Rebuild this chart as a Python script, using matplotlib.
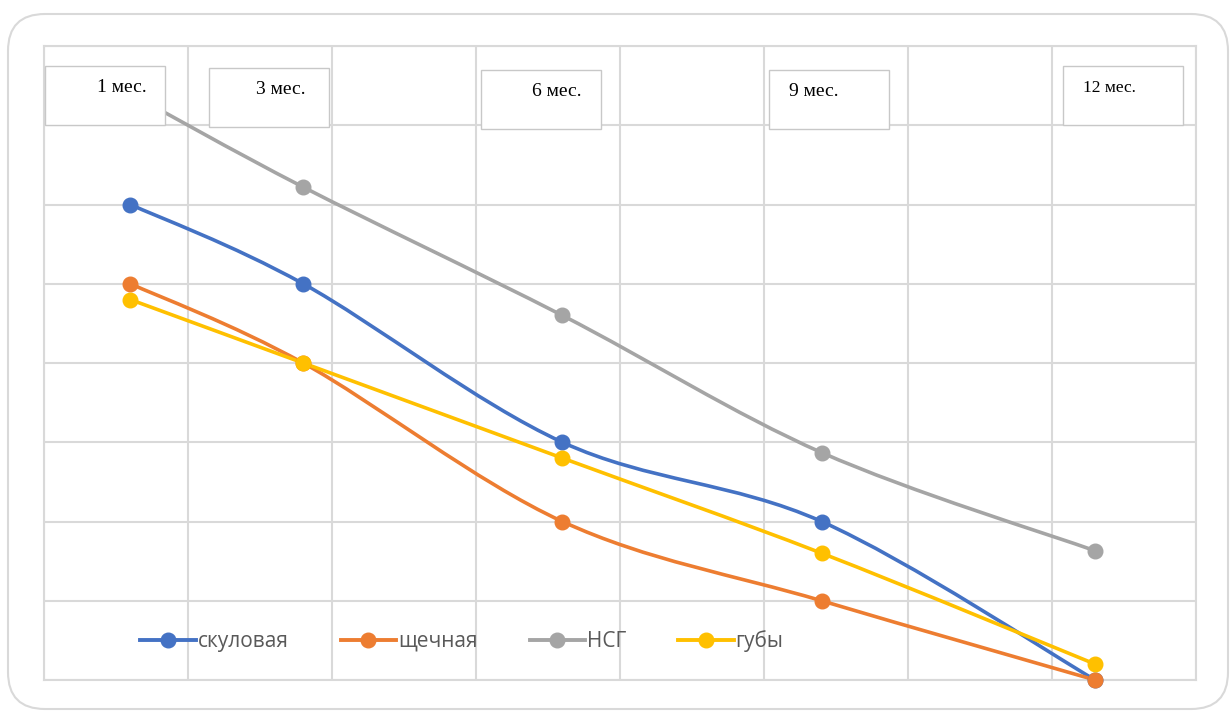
import numpy as np
import matplotlib.pyplot as plt
from matplotlib.path import Path
from matplotlib.patches import PathPatch, FancyBboxPatch
from matplotlib.lines import Line2D

# data (x in days after treatment)
days = [30, 90, 180, 270, 365]
month_labels = ['1 мес.', '3 мес.', '6 мес.', '9 мес.', '12 мес.']
series_names = ['скуловая', 'щечная', 'НСГ', 'губы']
skulovaya = [6.0, 5.0, 3.0, 2.0, 0.0]
shchechnaya = [5.0, 4.0, 2.0, 1.0, 0.0]
nsg = [7.4, 6.22, 4.6, 2.87, 1.63]
guby = [4.8, 4.0, 2.8, 1.6, 0.2]
colors = ['#4472C4', '#ED7D31', '#A5A5A5', '#FFC000']


def smooth_path(xs, ys):
    """Excel-like smoothed line as cubic Bezier path (Catmull-Rom)"""
    pts = np.column_stack([xs, ys]).astype(float)
    n = len(pts)
    verts = [pts[0]]
    codes = [Path.MOVETO]
    for i in range(n - 1):
        p0 = pts[i - 1] if i > 0 else pts[i]
        p1 = pts[i]
        p2 = pts[i + 1]
        p3 = pts[i + 2] if i + 2 < n else pts[i + 1]
        c1 = p1 + (p2 - p0) / 6
        c2 = p2 - (p3 - p1) / 6
        verts += [c1, c2, p2]
        codes += [Path.CURVE4] * 3
    return Path(verts, codes)


fig = plt.figure(figsize=(12.32, 7.11), dpi=100)

# outer rounded frame
frame = FancyBboxPatch((8 / 1232, 2 / 711), 1220 / 1232, 695 / 711,
                       boxstyle='round,pad=0,rounding_size=0.03',
                       transform=fig.transFigure, fill=False,
                       edgecolor='#d9d9d9', linewidth=1.5, mutation_aspect=1232 / 711)
fig.patches.append(frame)

ax = fig.add_axes([44 / 1232, 31 / 711, 1152 / 1232, 634 / 711])
ax.set_xlim(0, 400)
ax.set_ylim(0, 8)
ax.set_xticks(np.arange(0, 401, 50))
ax.set_yticks(np.arange(0, 9, 1))
ax.grid(True, color='#d9d9d9', linewidth=1.5)
ax.tick_params(length=0, labelbottom=False, labelleft=False)
for sp in ax.spines.values():
    sp.set_color('#d9d9d9')
    sp.set_linewidth(1.5)
ax.set_axisbelow(True)

handles = []
for name, vals, c in zip(series_names, [skulovaya, shchechnaya, nsg, guby], colors):
    ax.add_patch(PathPatch(smooth_path(days, vals), fill=False, edgecolor=c,
                           linewidth=2.6, capstyle='round', zorder=3))
    ax.plot(days, vals, linestyle='none', marker='o', markersize=10.5,
            color=c, zorder=4, clip_on=False)
    handles.append(Line2D([], [], color=c, linewidth=2.8, marker='o', markersize=10.5))

# month text boxes
box_pos = [(45, 66), (209, 68), (481, 70), (769, 70), (1063, 66)]
text_dx = [52, 47, 51, 20, 20]
font_sizes = [14, 14, 14, 14, 12.5]
for lab, (bx, by), dx, fs in zip(month_labels, box_pos, text_dx, font_sizes):
    x0 = (bx - 44) / 1152
    y1 = 1 - (by - 46) / 634
    ax.add_patch(plt.Rectangle((x0, y1 - 59 / 634), 120 / 1152, 59 / 634,
                               transform=ax.transAxes, facecolor='white',
                               edgecolor='#c8c8c8', linewidth=1, zorder=5))
    ax.text(x0 + dx / 1152, y1 - 22 / 634, lab, transform=ax.transAxes,
            fontsize=fs, family='Liberation Serif', va='center', ha='left', zorder=6)

leg = ax.legend(handles, series_names, loc='center', bbox_to_anchor=(418 / 1152, 1 - (641 - 46) / 634),
                ncol=4, frameon=False, handlelength=2.65, handletextpad=0.1,
                columnspacing=2.5, prop={'family': 'Open Sans', 'size': 15})
for t in leg.get_texts():
    t.set_color('#595959')

plt.savefig('out.png', dpi=100)
plt.close()
